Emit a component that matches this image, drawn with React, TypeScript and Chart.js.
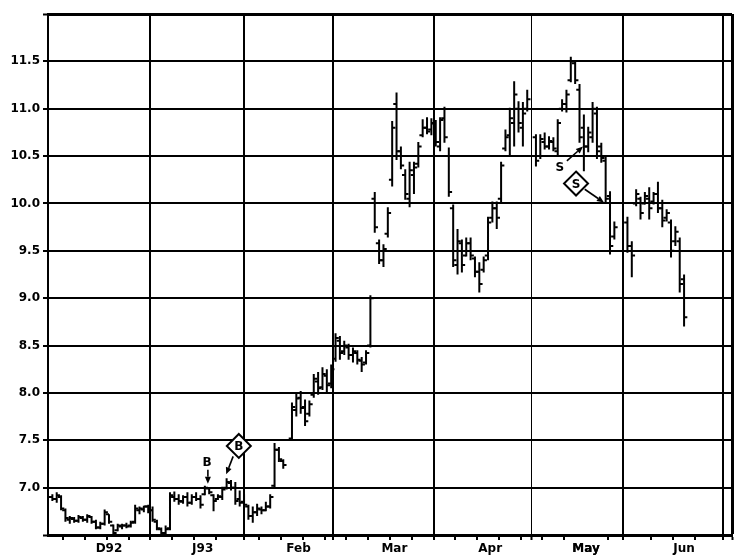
import React, { useEffect, useRef } from 'react';
import { Chart, registerables } from 'chart.js';

Chart.register(...registerables);

// Daily bars, index = trading day (null = no bar)
const highs: (number | null)[] = [
  6.93, 6.93, 6.95, 6.92, 6.78, 6.70, 6.69, 6.71, 6.70, 6.72,
  6.70, 6.66, 6.64, 6.77, 6.72, 6.61, 6.62, 6.62, 6.63, 6.65,
  6.82, 6.80, 6.81, 6.82, 6.80, 6.66, 6.58, 6.60, 6.95, 6.96,
  6.93, 6.92, 6.95, 6.93, 6.95, 6.92, 7.02, 7.00, 6.93, 6.93,
  7.01, 7.10, 7.08, 7.06, 6.97, 6.93, 6.82, 6.80, 6.83, 6.80,
  6.85, 6.93, 7.47, 7.43, 7.30, null, 7.90, 8.00, 8.02, 7.93,
  7.92, 8.20, 8.22, 8.27, 8.25, 8.30, 8.63, 8.60, 8.55, 8.52,
  8.48, 8.45, 8.38, 8.45, 9.03, 10.12, 9.62, 9.57, 9.96, 10.87,
  11.17, 10.60, 10.36, 10.44, 10.44, 10.65, 10.89, 10.91, 10.90, 10.88,
  10.91, 11.02, 10.59, 9.99, 9.73, 9.62, 9.64, 9.64, 9.44, 9.38,
  9.44, 9.86, 10.02, 10.02, 10.44, 10.78, 11.01, 11.29, 11.08, 11.07,
  11.20, null, 10.73, 10.73, 10.75, 10.71, 10.70, 10.89, 11.10, 11.20,
  11.55, 11.50, 11.26, 10.94, 10.81, 11.07, 11.02, 10.64, 10.50, 10.13,
  9.81, null, null, 9.86, 9.60, 10.15, 10.07, 10.12, 10.17, 10.12,
  10.23, 10.04, 9.94, 9.83, 9.76, 9.64, 9.25,
];
const lows: (number | null)[] = [
  6.84, 6.86, 6.84, 6.76, 6.64, 6.62, 6.63, 6.63, 6.64, 6.63,
  6.62, 6.56, 6.56, 6.60, 6.62, 6.49, 6.54, 6.56, 6.57, 6.58,
  6.62, 6.72, 6.74, 6.73, 6.64, 6.55, 6.48, 6.50, 6.55, 6.85,
  6.82, 6.83, 6.80, 6.82, 6.86, 6.78, 6.92, 6.93, 6.75, 6.87,
  6.87, 6.98, 6.97, 6.82, 6.80, 6.80, 6.66, 6.63, 6.70, 6.72,
  6.75, 6.78, 7.00, 7.27, 7.20, null, 7.50, 7.75, 7.78, 7.65,
  7.75, 7.95, 7.98, 8.03, 8.00, 8.05, 8.33, 8.35, 8.40, 8.35,
  8.32, 8.30, 8.22, 8.30, 8.48, 9.69, 9.36, 9.33, 9.64, 10.18,
  10.46, 10.36, 10.04, 9.96, 10.10, 10.38, 10.70, 10.73, 10.72, 10.60,
  10.55, 10.64, 10.07, 9.33, 9.25, 9.27, 9.44, 9.40, 9.22, 9.06,
  9.27, 9.40, 9.80, 9.73, 10.00, 10.55, 10.50, 10.60, 10.75, 10.60,
  10.97, null, 10.39, 10.47, 10.57, 10.57, 10.55, 10.50, 10.97, 10.96,
  11.28, 11.26, 10.64, 10.34, 10.54, 10.64, 10.47, 10.43, 10.00, 9.46,
  9.62, null, null, 9.48, 9.22, 9.97, 9.83, 9.99, 9.83, 9.99,
  9.90, 9.75, 9.81, 9.43, 9.55, 9.06, 8.70,
];
const opens: (number | null)[] = [
  6.86, 6.90, 6.88, 6.90, 6.76, 6.66, 6.67, 6.65, 6.68, 6.66,
  6.69, 6.64, 6.58, 6.62, 6.72, 6.60, 6.55, 6.59, 6.60, 6.60,
  6.64, 6.76, 6.77, 6.80, 6.76, 6.64, 6.56, 6.52, 6.57, 6.90,
  6.88, 6.85, 6.90, 6.84, 6.90, 6.88, 6.93, 6.99, 6.92, 6.88,
  6.90, 7.00, 7.05, 7.00, 6.88, 6.85, 6.80, 6.70, 6.74, 6.77,
  6.76, 6.80, 7.02, 7.40, 7.28, null, 7.52, 7.82, 7.95, 7.85,
  7.78, 7.98, 8.12, 8.06, 8.18, 8.10, 8.36, 8.55, 8.44, 8.48,
  8.40, 8.42, 8.34, 8.32, 8.50, 10.05, 9.58, 9.40, 9.68, 10.25,
  11.05, 10.55, 10.30, 10.05, 10.30, 10.42, 10.72, 10.80, 10.78, 10.84,
  10.60, 10.90, 10.50, 9.95, 9.35, 9.58, 9.45, 9.58, 9.42, 9.28,
  9.30, 9.45, 9.85, 9.95, 10.05, 10.58, 10.72, 10.85, 11.00, 10.80,
  11.00, null, 10.70, 10.50, 10.65, 10.60, 10.65, 10.55, 11.00, 11.05,
  11.30, 11.48, 11.20, 10.80, 10.60, 10.70, 10.95, 10.60, 10.45, 10.08,
  9.65, null, null, 9.80, 9.55, 10.00, 10.05, 10.00, 10.05, 10.02,
  10.10, 9.95, 9.85, 9.80, 9.60, 9.60, 9.20,
];
const closes: (number | null)[] = [
  6.90, 6.88, 6.92, 6.78, 6.68, 6.68, 6.65, 6.69, 6.66, 6.70,
  6.64, 6.58, 6.62, 6.74, 6.64, 6.52, 6.60, 6.60, 6.59, 6.63,
  6.78, 6.78, 6.80, 6.76, 6.66, 6.57, 6.52, 6.56, 6.92, 6.88,
  6.86, 6.90, 6.84, 6.90, 6.88, 6.82, 7.00, 6.95, 6.86, 6.91,
  6.98, 7.06, 7.00, 6.86, 6.84, 6.82, 6.70, 6.74, 6.78, 6.76,
  6.80, 6.90, 7.40, 7.30, 7.24, null, 7.85, 7.94, 7.84, 7.70,
  7.88, 8.15, 8.05, 8.20, 8.08, 8.25, 8.58, 8.42, 8.50, 8.40,
  8.44, 8.35, 8.30, 8.42, 9.00, 9.75, 9.40, 9.52, 9.90, 10.80,
  10.55, 10.40, 10.10, 10.35, 10.38, 10.60, 10.80, 10.76, 10.85, 10.65,
  10.88, 10.70, 10.12, 9.40, 9.60, 9.35, 9.58, 9.45, 9.28, 9.15,
  9.40, 9.80, 9.95, 9.85, 10.40, 10.70, 10.90, 11.15, 10.85, 10.95,
  11.10, null, 10.45, 10.68, 10.60, 10.66, 10.58, 10.85, 11.05, 11.15,
  11.50, 11.30, 10.70, 10.60, 10.75, 11.00, 10.55, 10.48, 10.05, 9.55,
  9.75, null, null, 9.55, 9.45, 10.10, 9.90, 10.08, 9.95, 10.10,
  9.95, 9.82, 9.90, 9.50, 9.70, 9.15, 8.80,
];

const monthLabels = ['D92', 'J93', 'Feb', 'Mar', 'Apr', 'May', 'Jun'];
const monthLabelDays = [14, 35.5, 57.5, 79.5, 101.5, 123.5, 146];
const monthGridDays = [23.5, 45, 65.5, 88.5, 111, 132, 155];
const weekTickDays = [
  3.5, 8.5, 13.5, 18.5, 28.5, 33.5, 38.5, 48.5, 53.5, 58.5, 63.5, 68.5, 73.5, 78.5,
  83.5, 93.5, 98.5, 103.5, 108.5, 113.5, 118.5, 123.5, 128.5, 138.5, 143.5, 148.5,
];
const priceTicks = [6.5, 7, 7.5, 8, 8.5, 9, 9.5, 10, 10.5, 11, 11.5, 12];
const X_MIN = 0;
const X_MAX = 157;

// Signal annotations, in (trading day, price) units
const notes = [
  { text: 'B', tx: 36.5, ty: 7.27, diamond: false, from: [36.7, 7.19], to: [36.7, 7.04] },
  { text: 'B', tx: 43.8, ty: 7.44, diamond: true, from: [42.5, 7.33], to: [40.9, 7.14] },
  { text: 'S', tx: 117.5, ty: 10.39, diamond: false, from: [119.1, 10.45], to: [122.8, 10.6] },
  { text: 'S', tx: 121.2, ty: 10.21, diamond: true, from: [123.2, 10.15], to: [127.6, 10.01] },
];

const FONT = 'DejaVu Sans';

const notesPlugin = {
  id: 'notes',
  afterDraw(chart: any) {
    const { ctx, scales } = chart;
    const xs = scales.x;
    const ys = scales.y;
    ctx.save();
    ctx.strokeStyle = '#000';
    ctx.fillStyle = '#000';
    notes.forEach((n) => {
      const x1 = xs.getPixelForValue(n.from[0]);
      const y1 = ys.getPixelForValue(n.from[1]);
      const x2 = xs.getPixelForValue(n.to[0]);
      const y2 = ys.getPixelForValue(n.to[1]);
      const ang = Math.atan2(y2 - y1, x2 - x1);
      const hl = 7;
      const bx = x2 - hl * Math.cos(ang);
      const by = y2 - hl * Math.sin(ang);
      ctx.lineWidth = 1.6;
      ctx.beginPath();
      ctx.moveTo(x1, y1);
      ctx.lineTo(bx, by);
      ctx.stroke();
      ctx.beginPath();
      ctx.moveTo(x2, y2);
      ctx.lineTo(bx + 3 * Math.sin(ang), by - 3 * Math.cos(ang));
      ctx.lineTo(bx - 3 * Math.sin(ang), by + 3 * Math.cos(ang));
      ctx.closePath();
      ctx.fill();

      const cx = xs.getPixelForValue(n.tx);
      const cy = ys.getPixelForValue(n.ty);
      if (n.diamond) {
        const r = 12;
        ctx.beginPath();
        ctx.moveTo(cx, cy - r);
        ctx.lineTo(cx + r, cy);
        ctx.lineTo(cx, cy + r);
        ctx.lineTo(cx - r, cy);
        ctx.closePath();
        ctx.fillStyle = '#fff';
        ctx.fill();
        ctx.lineWidth = 2;
        ctx.stroke();
        ctx.fillStyle = '#000';
      }
      ctx.font = `bold 12px "${FONT}"`;
      ctx.textAlign = 'center';
      ctx.textBaseline = 'middle';
      ctx.fillText(n.text, cx, cy + 1);
    });
    ctx.restore();
  },
};

export default function App() {
  const ref = useRef<HTMLCanvasElement>(null);
  useEffect(() => {
    if (!ref.current) return;
    const rangeData: any[] = [];
    const openData: any[] = [];
    const closeData: any[] = [];
    highs.forEach((h, i) => {
      if (h == null) return;
      rangeData.push({ x: i, y: lows[i] }, { x: i, y: h }, { x: i, y: null });
      openData.push({ x: i - 0.75, y: opens[i] }, { x: i, y: opens[i] }, { x: i, y: null });
      closeData.push({ x: i, y: closes[i] }, { x: i + 0.75, y: closes[i] }, { x: i, y: null });
    });
    const lineDs = (data: any[]) => ({
      data,
      borderColor: '#000',
      borderWidth: 2,
      pointRadius: 0,
      spanGaps: false,
      fill: false,
      tension: 0,
      borderCapStyle: 'butt' as const,
    });
    const xTicks = [...weekTickDays, ...monthGridDays, ...monthLabelDays, X_MAX].sort((a, b) => a - b);
    const chart = new Chart(ref.current, {
      type: 'line',
      data: { datasets: [lineDs(rangeData), lineDs(openData), lineDs(closeData)] },
      options: {
        animation: false,
        responsive: true,
        maintainAspectRatio: false,
        layout: { padding: { top: 14, right: 10, left: 0, bottom: 0 } },
        plugins: { legend: { display: false }, tooltip: { enabled: false } },
        events: [],
        scales: {
          x: {
            type: 'linear',
            min: X_MIN,
            max: X_MAX,
            afterBuildTicks: (s: any) => {
              s.ticks = xTicks.map((v) => ({ value: v }));
            },
            afterFit: (s: any) => {
              s.height = 24;
            },
            ticks: {
              autoSkip: false,
              maxRotation: 0,
              padding: 2,
              color: '#000',
              font: { family: FONT, size: 12, weight: 'bold' },
              callback: (v: any) => {
                const k = monthLabelDays.indexOf(Number(v));
                return k >= 0 ? monthLabels[k] : '';
              },
            },
            grid: {
              color: (c: any) => {
                const v = c.tick?.value;
                return monthGridDays.includes(v) || v === X_MAX ? '#000' : 'rgba(0,0,0,0)';
              },
              lineWidth: (c: any) => {
                const v = c.tick?.value;
                if (v === X_MAX) return 3;
                if (v === 111) return 1;
                return 2;
              },
              tickColor: (c: any) => {
                const v = c.tick?.value;
                return monthLabelDays.includes(v) ? 'rgba(0,0,0,0)' : '#000';
              },
              tickWidth: 2,
              tickLength: 5,
              drawTicks: true,
            },
            border: { display: true, color: '#000', width: 3 },
          },
          y: {
            type: 'linear',
            min: 6.5,
            max: 12,
            afterBuildTicks: (s: any) => {
              s.ticks = priceTicks.map((v) => ({ value: v }));
            },
            afterFit: (s: any) => {
              s.width = 48;
            },
            ticks: {
              padding: 3,
              color: '#000',
              font: { family: FONT, size: 12, weight: 'bold' },
              callback: (v: any) => {
                const n = Number(v);
                return n >= 7 && n <= 11.5 ? n.toFixed(1) : '';
              },
            },
            grid: {
              color: '#000',
              lineWidth: (c: any) => {
                const v = c.tick?.value;
                return v === 12 || v === 6.5 ? 3 : 2;
              },
              tickLength: 5,
              tickWidth: 2,
            },
            border: { display: true, color: '#000', width: 2 },
          },
        },
      },
      plugins: [notesPlugin],
    });
    return () => chart.destroy();
  }, []);

  return (
    <div style={{ position: 'absolute', left: 0, top: 0, width: 742, height: 559, background: '#fff' }}>
      <canvas ref={ref} />
    </div>
  );
}
